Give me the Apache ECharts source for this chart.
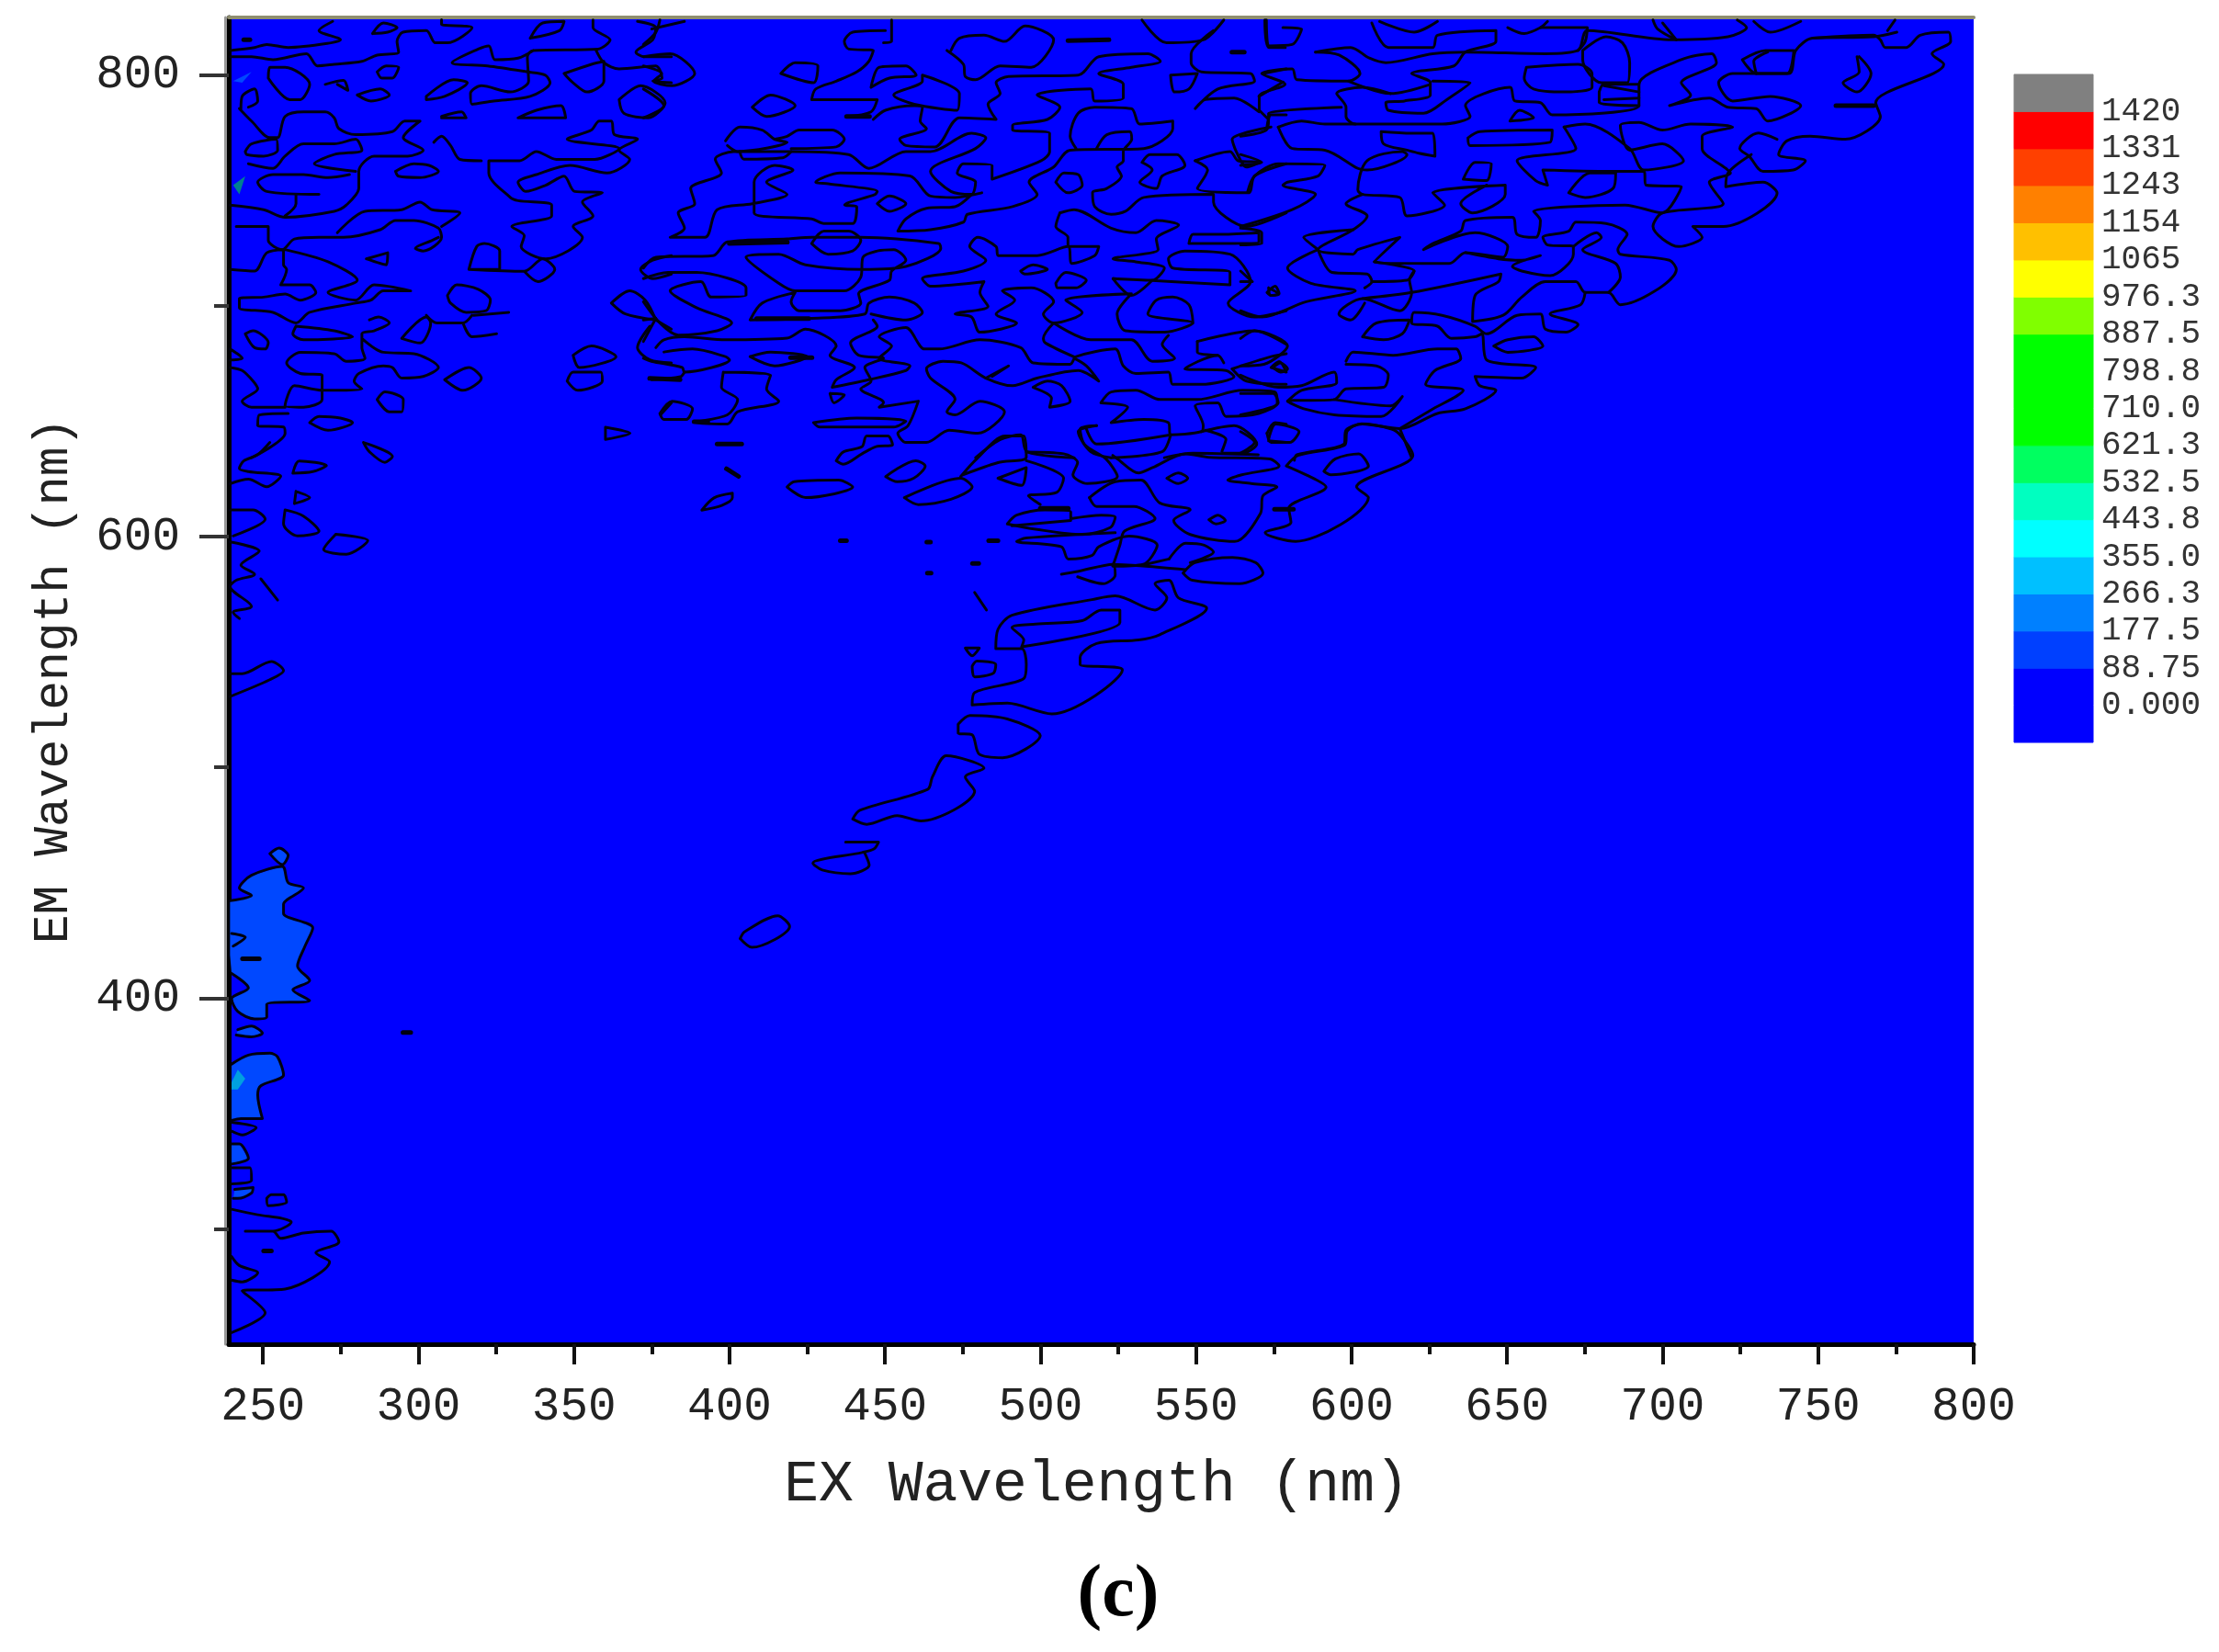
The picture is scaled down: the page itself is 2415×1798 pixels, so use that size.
<!DOCTYPE html>
<html>
<head>
<meta charset="utf-8">
<title>EEM contour</title>
<script src="https://cdn.jsdelivr.net/npm/echarts@6/dist/echarts.min.js"></script>
<style>
html,body{margin:0;padding:0;background:#fff}
#main{width:2415px;height:1798px}
</style>
</head>
<body>
<div id="main"></div>
<script>
// axis ticks (nm)
const exMajor=[250,300,350,400,450,500,550,600,650,700,750,800]
const exMinor=[275,325,375,425,475,525,575,625,675,725,775]
const emMajor=[400,600,800]
const emMinor=[300,500,700]

// colour scale
const levels=[0,88.75,177.5,266.3,355,443.8,532.5,621.3,710,798.8,887.5,976.3,1065,1154,1243,1331,1420]
const levelLabels=['0.000','88.75','177.5','266.3','355.0','443.8','532.5','621.3','710.0','798.8','887.5','976.3','1065','1154','1243','1331','1420']
const bandEdges=[-88.75,0,88.75,177.5,266.3,355,443.8,532.5,621.3,710,798.8,887.5,976.3,1065,1154,1243,1331,1420,1508.75]
const bandColors=['#0000ff','#0000ff','#0040ff','#0080ff','#00c0ff','#00ffff','#00ffc0','#00ff60','#00ff00','#00ff00','#00ff00','#80ff00','#ffff00','#ffc000','#ff8000','#ff4000','#ff0000','#808080']

// contour lines, flat lists of ex,em (nm)
const contoursUpperLeft=[
[239.4,810.7,247.3,812,251.2,813.3,258.1,812,271.9,814,274.9,815.3,268,819.3,272.4,823.3],
[239.4,808,246.3,808,253.2,806.7,264,809.3,267.5,804,272.9,804.7,281.8,806,286.7,808.7,293.6,810,293.1,814.6,295,818.6,302.5,819.3,305.4,814,309.3,814,317.2,820.6,307.4,822,307.4,824],
[285.2,818,288.7,822.6,293.1,820.6,290.1,818.6,285.2,818],
[335.9,816,339.9,822.6,346.8,823.3,345.3,819.3,335.9,816],
[356.1,823.9,356.1,820.6,361.6,815.3,357.6,811.3,336.9,810.7,335,808,335.4,797.4,329.5,792.7,320.2,795.4,316.7,792,317.2,787.4,324.1,788.8,335.9,790.8,342.3,796.7,340.8,800,335,801.4,322.2,804,310.8,805.4,319.2,811.3,322.6,812.7,324.6,806.7,332,807.4,336.9,810.7],
[357.1,810.7,359.6,805.4,364.5,802.7,376.3,804,378.3,798.7,375.3,797.4,381.3,796.7],
[346.8,800.7,355.6,804.7,359.6,806,359.6,797.4,354.2,792.7,349.7,796.7,346.8,800.7],
[370.4,823.3,376.3,820.6,375.3,815.3,369.9,810,372.4,808,381.3,808],
[364.5,789.4,371.4,795.4,379.3,788,373.9,781.5,366,783.5,364.5,789.4],
[251.7,798.7,252.2,803.4,257.1,803.4,265,796,262,789.4,258.6,789.4,251.7,798.7],
[270,796,275.9,797.7,277.3,793.4,273.9,796],
[280.3,791.4,287.7,794,290.6,791.4,284.7,788.8,280.3,791.4],
[286.7,801.4,289.6,804,293.6,803.4,291.6,798.7,288.2,798.7,286.7,801.4],
[302.5,790.8,311.3,798,315.7,796.7,308.4,790.8,302.5,789.4,302.5,790.8],
[307.4,782.1,313.8,784.1,315.3,781.5,307.4,781.5],
[332,781.5,337.9,784.8,345.8,786.8,347.3,781.5,332,781.5],
[242.9,785.5,243.3,790.8,247.3,794,248.3,788.8,245.3,786.1],
[242.4,785.5,246.3,780.1,252.2,772.9,254.7,772.9,257.1,782.1,263,784.1,270,784.1,272.9,781.5,274.4,776.8,279.8,774.2,291.6,775.5,295.6,780.1,300.5,780.1,295.1,772.9,301.5,767.5,296.5,764.9,285.7,764.9,280.8,758.3,280.8,751,276.8,743.7,272.9,741,257.1,738.4,250.2,741.7,239.4,743.7],
[244.3,766.9,246.3,770.2,254.2,772.2,254.7,767.5,250.2,764.9,244.8,765.6,244.3,766.9],
[245.3,761.6,253.2,759.6,257.1,764.9,263,770.2,272.9,770.2,279.8,772.2,281.8,767.5,272.9,765.6,266.5,761.6,279.8,758.3],
[277.8,756.9,270.9,755.6,263,756.9,253.2,756.9,248.3,753.6,251.2,749.6,268,748.3],
[260.6,748.3,260.6,744.3,257.1,739],
[292.6,758.3,298.5,761.6,303.4,760.9,306.4,758.3,300.5,755.6,293.6,756.2,292.6,758.3],
[304.9,770.9,307.4,773.5,310.3,769.5,313.3,763.5,320.2,762.9],
[322.6,762.9,322.6,757.6,329.5,747,332,745.6,342.8,743.7,342.8,739,330,734.4,334,730.4,333,725.7,340.9,720.4,352.7,729.7,349.7,734.4,356.1,739,352.7,745,359.1,749,350.2,749.6,346.8,756.2,340.9,752.3,334.5,749.6,332,753.6,337.9,756.9,348.7,760.9,360.6,757.6,367.9,763.5,364.5,767.5,370.4,772.2,363,774.2,362,780.1,358.1,780.1,355.6,776.2,347.8,772.2,364.5,768.2,356.6,763.5,344.3,763.5,337.9,766.9,332.5,762.9,322.6,762.9],
[241.4,734.4,251.7,734.4,251.7,728.4,256.2,724.4,260.1,729,268,729.7,275.9,729.7,287.7,733,292.6,737,298.5,737,306.4,733.7,307.4,729.7,301.5,723.8,299,725,304.4,728.4,306.4,729.7],
[273.9,731.7,282.8,741,294.6,741.7,300.5,745,304.4,741.7,313.3,740.3,307.4,734.4],
[283.2,720.4,290.1,723,289.6,717.8,283.2,720.4],
[316.2,715.8,318.7,725.7,321.2,727,326.1,723.8,326.1,715.8,316.2,715.8,334,715,339.9,720.4,343.8,715.8,338.4,710.5,334,715],
[239.4,715.8,247.3,715.1,251.2,723,256.6,724.4,256.6,717.8,257.6,715.8,255.7,709.1,265,709.1,267,705.8,262,702.5,257.1,705.1,250.2,703.8,242.4,703.2,242.4,699.2,253.2,697.2,260.6,692.6,265,697.2,279.8,701.2,284.7,702.5,288.7,706.5,297.5,706.5,285.7,709.1,279.8,702.5,270.9,705.8,280.3,711.1,270.9,719.1,257.1,724.4],
[309.3,704.5,312.3,709.1,319.2,707.2,323.1,702.5,321.7,697.9,315.3,697.2,310.3,701.2,309.3,704.5],
[317.7,695.9,329,697.2],
[302.5,695.9,305.9,692.6,314.3,692.6,317.2,695.9],
[294.6,685.9,302.5,695.2,303.9,692.6,300.5,683.9,294.6,685.9],
[314.3,692.6,317.2,686.6,325.1,687.9],
[260.6,691.2,259.6,687.9,263,685.3,278.8,686.6,272.9,689.2,260.6,691.2],
[284.2,693.9,287.2,695.2,290.6,692.6,285.7,689.2,281.8,687.9,281.8,681.9,282.8,677.3,276.8,676,272.9,679.3,262,679.9,257.6,675.3,262,670.7,269,670,269,659.4,263,656.1,257.1,656.7,260.1,665.4,269,663.4,281.8,664,279.3,667.3,280.8,670.7,288.7,674,291.6,673.3,294.6,668.7,301.5,669.4,306.4,673.3,298.5,679.3,288.7,679.9,281.8,685.9],
[244.3,687.9,246.8,689.2,251.7,684,250.7,681.3,247.3,681.9,244.3,687.9],
[239.4,673.3,243.3,672,246.8,667.4,248.3,664,243.3,658.7,246.3,656.1,257.1,656.1],
[239.4,681.3,243.3,677.3,239.4,676.6],
[308.4,668,316.2,673.3,320.2,668.7,314.3,663.4,308.4,668],
[286.7,659.4,289.2,662.7,295.1,659.4,294.6,654.1,290.6,654.1,286.7,659.4],
[258.1,653.4,248.8,652.7,248.3,648.1,256.6,647.5,257.1,644.8,246.3,634.2],
[265,649.4,268,652.1,274.9,651.4,278.8,649.4,270.9,646.1,265,649.4],
[360.1,647.4,368,644.8,360.1,642.1,360.1,647.4],
[349.7,678.6,355.6,682.6,363.5,678,351.7,673.3,349.7,678.6],
[347.8,667.4,349.7,671.3,358.6,671.3,359.1,667.4,351.2,663.4,347.8,667.4],
[362,701.2,367.9,706.5,372.9,702.5,376.3,693.9,366.5,696.5,362,701.2],
[376.3,693.9,381.3,689.9],
[374.4,691.2,370.4,681.9,374.4,676.6,381.3,675.3],
[381.3,721.8,375.3,719.8,371.4,715.8,375.3,711.8,381.3,713.8],
[377.8,652.8,381.3,658],
[282.3,640.8,291.6,634.8,289.2,632.2,284.2,636.8,282.3,640.8],
[252.2,640.8,248.3,635.5,243.8,632.8,242.4,629.5,245.3,628.2,255.7,626.2,251.2,621.6,245.3,624.9,239.4,622.9],
[259.6,627.5,261.6,632.8,270.4,630.8,266,628.2,259.6,627.5],
[260.6,619.6,265,616.9,260.1,614.3,260.6,619.6],
[239.4,611.6,246.8,611.6,250.7,607.6,240.4,600.3],
[257.1,611.6,263,608.9,268,602.3,261.1,600.3,256.6,605.6,257.1,611.6],
[273.4,601,283.7,598.3,276.8,592.4,269.5,594.4,273.4,601],
[239.4,597.7,248.8,593.7,242.9,587.7,247.3,583.7,241.4,581.1,239.4,578.4,246.3,569.8,240.4,567.2,242.4,564.5],
[249.3,581.7,254.7,572.5],
[239.4,540.6,243.3,540.6,252.7,545.9,256.6,541.9,252.2,538,239.4,530.7]
]
const contoursLowerLeft=[
[239.4,442.2,246.3,444.5,242.4,447.7,246.3,453.2,256.2,457.1,258.1,450,263,447.7,256.6,440.6,256.6,436.7,266,430.4,263.5,422.5,261.1,413.9,265,407.6,259.6,403.6,265,398.9,251.2,397.3,251.2,391.8,247.3,391,241.9,394.2,239.9,399.7,245.3,404.4,239.9,410.7],
[239.9,371.4,245.3,375.3,252.2,376.1,254.7,374.5,256.6,366.7,249.3,362,248.3,358,249.8,347.8,242.9,347.8,239.9,347],
[252.2,462.6,255.2,465,258.1,461.8,256.2,457.9,252.2,462.6],
[239.9,336.8,242.4,336.8,245.3,330.5,239.9,328.1],
[240.9,317.1,246.8,317.9,246.3,315.5,241.9,313.2,240.4,313.2],
[241.9,386.3,246.3,387.9,249.8,384.8,246.3,383.2,241.4,384],
[239.9,428,244.3,426.4,240.4,422.5],
[239.9,346.2,247.8,343.9,243.4,340.7,239.9,342.3],
[239.9,326.5,245.8,326.5,246.3,321,239.9,319.5],
[251.2,313.2,252.7,314.8,256.6,314.8,257.6,311.6,251.7,310,251.2,313.2],
[239.9,308.5,248.3,306.1,256.2,304.5,259.1,303,253.2,299,244.3,299,253.2,299,255.7,295.9,263,298.2,271.9,299,274.4,294.3,267,289.6,271.4,285.7,257.1,273.9,243.3,273.1,250.7,263.6,239.9,255],
[239.9,288,242.4,284.1,248.3,281,243.3,277,239.9,277.8]
]
const contoursCentre=[
[377.6,823.9,376.3,818.6,372.3,813.3],
[375,820,385.5,823.3],
[372.3,808,380.9,809.3,388.8,800.7,381.5,795.4,375.6,797.4,378.2,800.7,372.3,804],
[372.3,794,378.9,786.8,372.3,781.5],
[452.1,823.9,452.1,814.6,449.5,814],
[450.1,819.3,439.6,818.6,436.9,814.6,438.3,811.3,446.2,810.7,444.8,806,440.9,801.4,434.3,797.4,427.7,794,426.4,789.4,429,789.4,447.5,789.4,445.5,784.1,437.6,782.1],
[416.5,800.7,421.1,805.4,428.4,804,427,796.7,416.5,800.7],
[407.3,786.1,413.2,791.4,421.1,786.8,411.9,782.1,407.3,786.1],
[445.5,794.7,448.1,803.4,456.7,804,460,800,451.4,798.7,445.5,794.7],
[462,800,473.9,792,473.2,784.8,459.4,787.4,452.8,791.4,462,797.4,462,800],
[446.2,780.8,450.1,784.8,459.4,786.8,462,786.1,461.3,780.1,463.3,776.8,454.7,772.2,456.7,769.5,466,768.9,473.9,781.5,485.7,780.8,483.1,787.4,487,792,485.7,796.7,489.7,799.4,512.1,800,518.7,808,534.5,809.3,538.5,806,529.2,803.4,518.7,800.7,526.6,796,526.6,790.1,517.4,788.8,516.1,794,498.9,791.4,506.2,786.1,502.2,780.8,491,778.2,491,776.2,502.9,774.8,502.9,766.9,500.2,762.9,484.4,754.9,484.4,760.9,475.2,761.6,473.2,757.6,479.1,753.6,477.8,748.3,471.2,749.6,464.6,758.3,479.1,768.2,482.4,772.8,477.8,774.8,464.6,766.9,456.7,766.9,444.8,759.6,438.3,765.6,419.8,766.9,401.3,766.9,395.4,763.6,397.4,757.6,387.5,750.9,388.8,744.3,383.5,740.3,385.5,733.7,380.9,729.7,392.1,729.7,396,741.7,407.3,744.3,418.5,748.3,411.9,753.6,420.4,758.9,414.5,760.9,407.9,753.6,407.9,740.3,426.4,737.7,430.3,735.7,439.6,735.7,440.9,743,437,743.7,446.8,748.3,447.5,749.6,431.7,752.9,427.7,753.6,435.6,757.6,458,756.3,464.6,747.6,472.5,747,481.1,749],
[398.7,771.5,403.3,777.5,410.5,776.2,414.5,772.2,418.5,770.9,402.6,766.9,399.3,769.5],
[414.5,772.2,418.5,773.5,422.4,776.2,433,776.2,436.9,772.2,434.3,768.9,419.8,768.2],
[403.3,766.9,404.6,763.6,417.1,764.2,419.8,766.9],
[471.2,810.7,473.9,816,481.8,817.3,488.4,814.6,495,821.3,504.2,815.3,497,803.4,487,804,479.1,798,475.8,799.4,475.2,804.7,469.9,810.7],
[532.6,823.9,540.5,814,552.3,815.3,558.9,823.9],
[555.6,819.3,548.4,809.3,548.4,805.4,551.7,801.4,567.5,800.7,568.8,797.4,557,794,549.7,785.5,553,789.4,562.2,790.1,570.2,784.1],
[570.2,790.8,578,797],
[541.8,800,550.4,800.7,547.7,794,543.1,792.7,541.8,800],
[572.1,823.9,573.4,812,578.7,812],
[571.5,800.7,579,802.7],
[572.8,777.5,574.1,782.8,579,782.8],
[511.4,768.2,509.5,773.5,512.1,783.5,517.4,786.1,529.2,785.5,531.9,778.8,542.5,780.1,542.5,776.8,533.2,768.2,509.5,767.5,504.2,760.2,496.3,753.6,498.9,748.3,491,743,476.5,739.7,475.2,736.3,464.6,733,454.1,732.4,456.7,737.7,463.3,742.3,472.5,743,477.8,748.3],
[518,768.2,521.3,774.2,528.6,775.5,529.3,772.2,526.6,766.9,526.6,762.9,524.6,760.2,526,756.3,521.3,750.9,516.7,749,517.4,743,522.7,739.7,527.3,741,533.2,747,555.6,748.3,555.6,745,566.2,734.4,579,740.3],
[532.6,762.2,535.2,765.6,543.8,765.6,546.4,760.9,539.1,756.3,537.2,750.9,531.9,753.6,535.9,758.9,532.6,762.2],
[504.9,753.6,507.5,757.6,512.1,756.9,513.4,752.3,508.8,749,504.9,753.6],
[447.5,744.3,451.4,747.6,456.7,744.3,451.4,741,447.5,744.3],
[549.7,762.9,560.9,766.9,563.5,762.9,570.2,762.2,566.2,760.2,562.9,766.9,561.6,772.2,574.1,777.5],
[549.7,762.9,553.7,758.9,550.4,750.9,566.8,749,568.8,756.3,579,761.6],
[506.2,740.3,510.8,741.7,522.7,733.7,530.6,731.7,537.2,737,544.4,735,537.2,729,537.8,724.4,523.3,720.4,530.6,719.1,539.8,716.4,535.9,711.1,523.3,711.8,534.5,711.1,560.9,709.1,560.9,714.5,542.5,716.4,541.1,720.4,546.4,723.8,560.9,722.4,567.5,710.5,560.3,701.2,568.8,695.2,579,697.9],
[506.2,740.3,504.9,734.4,508.8,729.7,508.8,725.7,518.7,725.7,517.4,721.8,510.1,718.4,508.8,725.7,498.9,721.8,486.4,721.8,485.7,725.7,479.8,729.7,477.2,725.7,482.4,719.8,475.2,715.1,462,711.8,464.6,708.5,481.8,710.5,480.5,705.8,483.1,699.8,472.5,696.5,477.8,695.2,480.5,688.6,492.3,692.6,485.7,696.5,491.7,702.5,487.7,706.5,497,707.8,504.2,701.8,500.9,696.5,504.2,692.6,513.4,697.2,508.1,702.5,529.2,705.2,524.6,696.5,527.3,689.2,539.8,688.6,549,692.6,534.5,696.5,537.2,702.5,542.5,703.8,547.7,700.5,549,692.6],
[547.7,727,549,731,558.3,731,570.2,731.7,570.2,727.7,550.4,727,547.7,727],
[372.3,711.8,380.2,714.5,389.4,714.5,405.3,707.8,405.3,704.5,394.1,703.8,390.8,710.5,380.9,706.5,389.4,699.2,400.7,692.6,396,689.2,383.5,687.3,377.6,692.6,372.3,701.8],
[372.3,716.4,376.3,721.1,394.7,721.8,399.3,727.7,418.5,729,426.4,729.7,442.2,729.7,467.3,727,467.9,725,456.7,717.1,442.9,715.8,424.4,717.8,415.8,722.4,405.3,721.1,415.8,709.8,421.1,706.5,436.9,706.5,442.2,712.5,442.9,721.1,447.5,723.8,452.8,724.4,456.7,719.8,452.1,715.1,451.4,711.1,441.5,705.2,442.2,701.2,435.6,697.9,422.4,697.9,419.8,701.8,421.1,705.8,410.5,701.2,406.6,693.9,425.7,694.6,443.5,696.5,444.8,701.2,451.4,703.8,459.4,701.2,462,697.2,456.7,693.9,445.5,696.5],
[426.4,727,430.3,732.4,438.3,732.4,442.2,728.4,439.6,723.8,431.7,722.4,426.4,727],
[376.3,681.9,378.9,685.3,385.5,686.6,398.7,685.3,418.5,686,424.4,689.9,434.3,682.6,432.3,678.6,440.2,673.3,434.3,668,433,664.7,444.8,668,456.7,672,458,674,448.1,677.3,452.1,682.6,448.1,686.6,456.7,690.6,462.7,681.3,467.3,681.3,480.5,685.3,493.6,681.9,497.6,675.3,509.5,674.7,511.4,678,524,681.3,526.6,674,530.6,670.7,541.1,671.3,542.5,666,551.7,666,562.2,669.3,559.6,672,546.4,672.7,556.9,678.6,558.9,675.3],
[446.2,693.9,447.5,691.2,438.9,683.9,441.5,678.6,449.5,677.3,443.5,673.3,445.5,667.4,442.2,664,449.5,658.1,448.1,656.1,460.7,658.7,457.4,648.1,454.1,644.8,456.7,640.8,463.3,640.8,470.6,646.1,479.8,644.8,488.4,654.1,480.5,658.7,472.5,652.8,469.9,654.1,472.5,659.4,464.6,668.7,463.3,672.7,468.6,676,474.5,675.3,482.4,668.7,491,665.4,498.9,668.7,512.1,672,518.7,667.4,514.7,674,510.8,677.3],
[378.9,680,388.1,681.3,398.7,678,400,676.6,385.5,671.3,384.8,673.3,374.9,676,372.3,677.3],
[385.5,671.3,384.2,669.3,374.9,668],
[406.6,678,413.2,680,425,678,414.5,674,406.6,678],
[398,671.3,413.2,670,411.9,664,415.8,658.7,402.6,654.1,399.3,648.8,388.8,649.4,399.3,652.8,402.6,659.4,397.4,664.7,398,671.3],
[377.6,653.4,381.5,658.7,388.1,655.4,386.1,650.8,378.9,650.8,377.6,653.4],
[427,649.4,440.9,651.4,456.7,650.1,452.8,647.5,429,647.5,427,649.4],
[432.3,662,436.9,661.4,433.6,658,432.3,662],
[519.4,658,522.7,662.7,530.6,663.4,538.5,659.4,550.4,659.4,564.9,663.4,575.4,662.7,576.1,658,570.2,653.4,559.6,652.1,557,658,549.7,656.7,552.3,648.1,551.7,645.5,541.8,644.1,541.1,649.4,533.2,650.8,522.7,649.4,528,656.1,519.4,658],
[518,648.1,512.1,645.5,516.1,636.8,522.7,634.2],
[514.7,646.8,518,640.1,541.8,644.1],
[551.7,645.5,562.2,648.1,569.5,640.1,564.9,636.2,558.3,636.8,559.6,642.1,553,646.1],
[541.8,644.1,539.1,636.8,522.7,634.2],
[539.8,634.2,549,636.2,570,635.5],
[497.6,664.7,502.2,667.4,506.8,665.4,509.5,658.7,502.9,656.1,503.5,660,497.6,664.7],
[482.4,668.7,489.7,674,484.4,669.4],
[550.4,684.6,568.8,689.2,579,683.3],
[550.4,684.6,550.4,680,556.9,678.6],
[561.6,672.7,574.1,678,579,679.3],
[561.6,672.7,566.2,667.4,579,666],
[574.1,673.3,576.7,675.9,579,671.3,574.1,673.3],
[572.8,644.8,575.4,649.4,579,648.7],
[572.8,644.8,574.1,640.8,579,640.8],
[479.1,634.2,487,642.1,493.6,644.1,495.6,636.8,510.8,634.2],
[372.3,693.9,376.3,694.6,372.3,684.6],
[572.8,705.8,575.4,708.5,576.7,705.2,574.1,704.5,572.8,705.8],
[493.6,715.1,497.6,717.8,502.2,715.8,494.9,713.8,493.6,715.1],
[504.9,709.8,508.1,714.5,514.7,711.1,511.4,707.8,505.5,707.8,504.9,709.8],
[504.2,692.6,500.9,685.9,501.6,683.9,510.8,677.9],
[504.2,692.6,516.1,685.3,529.2,685.3,535.9,676,543.1,677.3,539.1,683.3,541.1,687.2],
[523.3,711.8,529.2,704.5,535.9,711.1]
]
const contoursRight=[
[572.6,823.9,573.3,812.7,580.9,813.3,583.9,820,577.9,820.6],
[606.5,822.6,611.8,812,626.1,812,627.6,817.3,646.4,819.3,646.4,814.6,636.6,810,632.9,804,619.3,800.7,625.3,796.7,625.3,791.4,617,788.8,611,788.1,611.8,784.8,623.1,783.5,630.6,789.4,638.1,796.7,626.1,797.4],
[588.4,810,599.7,812,605.7,807.4,611,805.4,626.1,809.3,636.6,810,662.3,809.3,672.8,810.7,675.8,819.3,703,815.3,721,816.6,727,820.6,724,823.9],
[588.4,810,596,808.7,602.7,800.7,599,797.4,582.4,798,580.9,802.7,571.1,800.7,578.6,796,570.3,790.8,570.3,784.8],
[599,797.4,612.5,792,625.3,796],
[612.5,792,603.5,794.7,595.2,792,598.2,786.1,598.2,782.1,601.2,778.8,629.1,778.8,638.1,782.1,636.6,786.8,650.9,794.7,652.5,788.8,660.7,788.1,664.5,782.8,692.4,786.8,692.4,796,706,806.7,715.8,809.3,717.3,805.4,706,796.7,709,791.4,702.2,786.8,715,790.1,721,786.1,730.1,785.5,733.8,780.1,744.4,786.8,734.6,790.8,722.5,788.8,718,796.7,722.5,800.7,740.6,800.7,742.8,810.7,748.2,816,767.8,816.6,775.3,818.6],
[748.2,816,767.8,817.3,770,815.3,771.6,812,778.3,812,782.8,817.3,791.9,818.6,792.6,814.6,786.6,809.3,790.4,804.7,768.5,788.1,770,782.1,758.7,772.2,747.4,773.5,739.9,771.5,737.3,765.6,745.9,762.9,742,758.9,732.3,758.3,727.8,764.9,724.8,768.2,730.8,774.9,736.8,772.2],
[774.7,823.9,772.3,819.3],
[650.2,820.6,655.5,818,660.7,820.6,663,823.3],
[660.7,820.6,675.8,820.6,675.1,814.6,672.8,810.7],
[696.9,823.9,698.4,820,704.4,815.3,700,822.6],
[729.3,823.3,734.6,818.6,744.4,823.3],
[609,823.3,620.1,818.6,627.6,823.3],
[674.3,810.7,681.8,816.6,687.1,814,689.4,805.4,688.6,796.7,680.3,796.7,674.3,806.7,674.3,810.7],
[656.2,803.4,672.8,804.7,677.3,800.7,677.3,794.7,668.3,792.7,658.5,794,655.5,798.7,656.2,803.4],
[679.6,792.7,681.1,796,692.4,796],
[679.6,792.7,679.6,788.1,692.4,786.8],
[681.1,789.4,692.4,790.1],
[681.1,795.4,692.4,792.7],
[725.6,806.7,733.1,810.7,742.2,810.7,740,800.7,730.1,800.7,725.6,806.7],
[730.1,800.7,729.3,806,733.8,810],
[763.2,808,767,800.7,762.5,792.7,758,796.7,763.2,801.4,762.5,808],
[570.3,784.8,573.3,780.8,573.3,783.5,596.7,786.1],
[564.3,773.5,572.6,776.2,573.3,780.8],
[576.4,777.5,583.9,780.1,591.4,778.8,601.2,778.8],
[576.4,777.5,580.9,768.2,591.4,767.5,602,759.6,605,758.9,617.8,765.6,616.3,766.9,605,762.9,602,750.3,603.5,748.3,615.5,747,617.8,739,629.9,743.7,626.1,749,649.4,752.3,649.4,748.3,638.9,740.3,635.1,744.3,643.4,752.3],
[609.5,775.5,619.3,774.8,626.1,774.8,626.8,764.9,621.6,766.2,617.8,767.5,610.3,770.2,609.5,775.5],
[637.4,772.8,641.2,775.5,664.5,776.2,663.8,770.9,638.1,769.5,637.4,772.8],
[650.9,780.1,654,784.8,658.5,781.5,650.9,780.1],
[668.3,777.5,675.1,778.8,689.4,768.2,693.9,758.9,706.7,762.9,699.9,770.2,689.4,767.5,686.4,778.2,692.4,779.5,699.9,776.2,709,778.8,722.5,777.5,712.7,773.5,712.7,768.2,720.3,759.6,721.8,757.6,715,753.6,719.5,744.3,699.9,740.3,696.9,734.4,705.2,725.7,712.7,729.7,709.7,734.4,719.5,734.4,736.8,748.9,732.3,753.6,720.3,751.6,721,757.6,728.5,765.6],
[668.3,777.5,672.1,768.2,653.2,762.9,659.2,754.3,663,752.3,661.5,758.9,683.3,758.3,693.9,758.3,694.7,752.3,706,751.6,699.9,740.3,687.9,743.7,658.5,741,660.7,737,659.2,729.7,653.2,731,651.7,738.4,636.6,737,635.1,732.4,626.1,727,623.1,724.4,639.7,731.7,650.2,725.7,648.7,721.1,636.6,723.1,631.4,718.4,607.3,719.1,615.5,729.7,602,724.4,600.5,722.4,589.2,724.4,600.5,733,605,739,598.2,744.3,603.5,748.3],
[669.8,749,676.6,757.6,684.9,757.6,684.1,751,675.1,747,669.8,749],
[635.9,754.9,639.7,762.2,644.9,761.6,643.4,754.3,635.9,754.9],
[566.6,749.6,568.8,756.3,576.4,761.6,591.4,760.9,589.2,756.3,579.4,753.6,577.9,752.3,588.4,748.3,580.9,741.7,564.3,734.4],
[564.3,733.7,571.1,731.7,571.1,727,564.3,726.4],
[600.5,733,584.6,729.7,589.2,724.4],
[589.2,724.4,579.4,716.4,586.9,709.8,601.2,706.5,585.4,701.8,571.1,695.2,564.3,697.9],
[589.2,724.4,593.7,714.5,605,713.8,606.5,710.5,604.2,707.8],
[606.5,710.5,617.8,711.1,620.1,715.1,607.3,719.1],
[620.1,715.1,618.6,711.1,619.3,705.8,615.5,697.9,603.5,703.2,595.9,696.5,599.7,693.9,604.2,701.2],
[603.5,703.2,619.3,705.8,648,713.8,647.2,710.5,639.7,704.5,638.9,693.2,648.7,695.9,654.7,703.8,662.3,710.5,672.1,710.5,675.1,705.8,682.6,705.8,686.4,700.5,704.4,715.8,702.2,719.8,686.4,722.4,685.6,724.4,688.6,731,681.8,735.7,672.1,736.3,669.8,732.4,661.5,729.7,663,726.4,671.3,725.7,671.3,722.4,663.8,713.1,654.7,715.1,651.7,717.1,660.7,721.8,654.7,719.8,647.2,720.4,636.6,723.1],
[671.3,725.7,678.8,731.7,680.3,729.7,674.3,724.4,684.9,718.4,686.4,712.5,682.6,705.8],
[675.1,705.8,673.6,700.5,663.8,696.5,672.8,691.9,669,688.6,662.3,689.9,660.7,696.5,653.2,695.9,643.4,687.9,639.7,691.2,629.1,695.9,620.1,697.2,619.3,692.6,627.6,691.2,632.1,685.9,639.7,686.6,641.9,687.9,643.4,676.6,659.2,673.3,654.7,668.7,639.7,669.4,641.2,665.4,646.4,663.4,636.6,655.4,627.6,653.4,615.5,646.8,603.5,648.8,598.2,646.1,597.5,640.1,582.4,635.5,581.6,633.1],
[603.5,686.6,608,692.6,618.6,693.9,616.3,687.9,610.3,685.3,603.5,686.6],
[645.7,682.6,650.2,685.3,658.5,686.6,661.5,682.6,650.2,679.9,645.7,682.6],
[598.2,676,600.5,680,613.3,678.6,627.6,681.3,633.6,681.3,635.1,677.3,626.8,672,623.8,666,635.9,663.4,625.3,654.7,615.5,646.8],
[598.2,674.7,608,674,611.8,670,610.3,664.7,598.2,664,594.4,659.4,579.4,658.7,584.6,655.4,594.4,652.8,609.5,652.1,616.3,660.7,612.5,656.7,594.4,659.4],
[564.3,685.9,568.8,689.2,579.4,682.6,571.8,674.7,564.3,674],
[574.8,673.3,577.1,675.3,579.4,672.7,577.1,671.3,574.8,673.3],
[564.3,670,576.4,664.7,583.9,665.4,594.4,671.3,595.2,666.7,583.9,663.4,579.4,658.7],
[564.3,662,574.8,662,576.4,658,564.3,652.8],
[573.3,642.1,575.6,648.8,583.1,645.5,580.1,640.8,573.3,641.5],
[564.3,645.5,568.8,640.8,564.3,636.2],
[615.5,646.8,619.3,634.2],
[564.3,765.6,571.1,762.2,564.3,760.9],
[564.3,715.1,568.1,710.5,564.3,710.5],
[573.3,707.8,576.4,705.2,574,704.5,573.3,707.8]
]
const contoursLower=[
[434.3,632.9,436.6,636.7,442.6,639,444.1,643.6,450.9,643.6,452.4,639.8,447.1,639,442.6,635.9,436.6,631.4,434.3,632.9],
[450.2,626,459.9,632.9,462.9,630.6,459.2,625.3,453.9,623.8,450.2,626],
[418.5,621.5,420.8,623.8,435.1,624.5,439.6,621.5,424.5,616.9,418.5,621.5],
[456.2,616.9,474.3,625.3,478,621.5,471.2,616.2,460.7,613.9,456.2,616.9],
[474.3,626,479.5,633.7,488.6,643.6,494.6,643.6,495.4,634.4,486.3,632.1,475,626.8],
[495.4,636.7,507.4,635.9,511.9,632.1,510.4,626.8,515,623,524.7,626,521,633.7,514.2,639.8,512.7,646.6,518,648.1],
[495.4,632.9,507.4,625.3,505.2,619.2,496.1,617.7,499.9,613.9],
[486.3,625.3,495.4,629.9,493.9,622.2,486.3,625.3],
[489.3,605.5,492.3,609.3,501.4,611.6,509.7,610.8,509.7,607.8,519.5,609.3,524,608.5,522.5,604,513.4,600.9,498.4,603.2,489.3,605.5],
[490.8,604.7,509.7,607],
[515.7,616.9,524,623.8,532.3,624.5,538.3,614.6,548.1,611.6,542.8,607,548.1,600.9,562.4,597.9,570.7,610.1,571.5,617.7,576,621.5,567.7,623,560.2,624.5,564.7,626.8,576.7,630.6,573.7,633.7,554.1,634.4,546.6,635.9,536,629.9,531.5,627.6,524.7,633.7,523.2,635.2],
[515.7,616.9,518,613.1,530,613.1,536.8,607.8,527,602.4,525.5,596.3,524,590.3,523.2,587.2,533,588,537.5,596.3,528.5,600.2,518.7,595.6,516.5,591.8,508.9,590.3,506.7,595.6,492.3,597.9,495.4,599.4,524,601.7],
[540.6,625.3,544.3,627.6,547.3,625.3,544.3,623,540.6,625.3],
[554.1,607.3,557.1,609.3,559.4,607,556.4,605.5,554.1,607.3],
[579,630.6,582.8,635.2,597.9,639.8,598.6,645.8,603.1,648.9,612.9,646.6,615.9,643.6,619.7,635.2,601.6,621.5,605.4,616.9,582,597.9,572.2,601.7,580.5,606.2,579.8,612.3,591.8,621.5,588.8,624.5,579,630.6],
[591.1,628.3,594.8,633.7,602.3,635.9,605.4,630.6,593.3,626.8,591.1,628.3],
[506.7,583.7,511.9,584.9,523.2,588,524,583.4,520.2,579.6,511.9,582.6],
[523.2,588,533.8,587.2,546.6,585.7],
[545.8,584.2,549.6,588.7,561.7,591,569.2,588.7,571.5,584.2,563.9,579.6,548.8,581.1,545.8,584.2],
[541.3,590.3,546.6,597.1,552.6,596.3,555.6,593.3,548.1,588.7],
[533.8,588,541.3,590.3],
[485.6,551.4,486.3,559.8,490.8,565.9,516.5,572.7,524,574.3,536.8,568.2,540.6,573.5,536.8,579.6,541.3,581.1,544.3,573.5,553.4,569,538.3,557.5,531.5,555.2,518,553.7,512.7,547.6,512.7,544.6,526.3,542.3,503.6,523.2,489.3,527.8,478,527,478.8,532.4,494.6,538.5,495.4,544.6,493.9,551.4,485.6,551.4],
[493.9,552.2,525.5,562.8,525.5,568.2,519.5,568.2,513.4,563.6,498.4,562.1,490.8,560.6,494.6,555.2,493.9,552.2],
[475.8,551.7,480.3,551.7,478,548.4,475.8,551.7],
[478,543.8,479.5,546.1,485.6,544.6,484.8,540.8,478.8,539.2,478,543.8],
[478.8,575.8,482.6,568.2],
[391.1,611.5,395,616.8,400.9,618.8,400.9,616.8,397.5,613.5,391.1,611.5],
[473.5,518.7,477.3,522.5,489.3,521,499.9,513.8,487.8,504.2,480.3,505.7,478,514.1,473.5,514.9,473.5,518.7],
[439.6,477.6,441.9,481.4,463.7,490.5,465.2,495.8,469.7,505,481.8,499.6,475.8,495.8,478.8,489.7,461.5,476.8,453.9,479.1,444.1,475.3,439.6,477.6],
[437.3,467.6,447.9,467.6,446.4,464.6,442.6,463.1,426.8,458.5,429.8,455.5,438.8,453.9,444.9,457.7,443.4,463.1],
[403.4,425.8,404.9,428.8,415.5,435.7,419.3,431.1,407.2,422,403.4,425.8]
]
// short heavy dashes and specks
const dashes=[
[243.8,815.3,245.8,815.3],[508.8,814.9,522,815.3],[561.5,810,565.5,810],[755.7,786.8,767.8,786.8],
[396,640.1,403.9,640.1],[499.9,612.3,508.9,612.3],[575.2,611.9,581.3,611.9],[399,629.4,402.9,626.1],
[435.6,598.2,437.6,598.2],[463.4,597.6,464.6,597.6],[483.3,598.2,486.3,598.2],[478.1,588.4,480.1,588.4],[463.6,584.2,464.8,584.2],
[243.4,417,248.8,417],[295,385.1,297.5,385.1],[250.2,290.4,252.7,290.4],[437.6,782.1,445,782.1],
[399.9,727,418.6,727.6],[408.7,694.5,425.5,694.5],[419.6,677.6,426.5,677.6],[374.3,668.6,384.1,668],[388.6,649.8,393,649.8]
]
// small areas above the base level
const patchesLevel1=[
[239.4,442.2,246.3,444.5,242.4,447.7,246.3,453.2,256.2,457.1,258.1,450,263,447.7,256.6,440.6,256.6,436.7,266,430.4,263.5,422.5,261.1,413.9,265,407.6,259.6,403.6,265,398.9,251.2,397.3,251.2,391.8,247.3,391,241.9,394.2,239.9,399.7,245.3,404.4,239.9,410.7,239.4,418.6],
[239.9,371.4,245.3,375.3,252.2,376.1,254.7,374.5,256.6,366.7,249.3,362,248.3,358,249.8,347.8,242.9,347.8,239.9,347],
[252.2,462.6,255.2,465,258.1,461.8,256.2,457.9],
[239.9,336.8,242.4,336.8,245.3,330.5,239.9,328.1],
[240.9,317.1,246.8,317.9,246.3,315.5,241.9,313.2,240.4,313.2],
[241.9,386.3,246.3,387.9,249.8,384.8,246.3,383.2,241.4,384],
[240.4,797.4,246.3,801.4,243.3,796.7]
]
const patchesLevel3=[[239.9,363.5,241.9,369,244.3,365.1,241.9,360.4,239.9,360.4]]
const patchesLevel4=[[240.4,752.3,244.3,756.2,242.4,748.3]]

const myChart=echarts.init(document.querySelector('#main'))

function toPairs(flat){
  const out=[]
  for(let i=0;i<flat.length;i+=2) out.push([flat[i],flat[i+1]])
  return out
}

function lineSeries(flat,width,smooth){
  return {
    type:'line',
    xAxisIndex:0,
    yAxisIndex:0,
    data:toPairs(flat),
    showSymbol:false,
    symbol:'none',
    silent:true,
    smooth:smooth,
    z:5,
    lineStyle:{color:'#000010',width:width,cap:'round',join:'round'}
  }
}

function patchSeries(list,color){
  return {
    type:'custom',
    xAxisIndex:0,
    yAxisIndex:0,
    data:list.map((item,i)=>[i]),
    silent:true,
    z:3,
    renderItem:function(params,api){
      const pts=toPairs(list[params.dataIndex]).map(p=>api.coord(p))
      return {type:'polygon',shape:{points:pts},style:{fill:color}}
    }
  }
}

const allContours=[...contoursUpperLeft,...contoursLowerLeft,...contoursCentre,...contoursRight,...contoursLower]

const option={
  animation:false,
  backgroundColor:'#fff',
  title:{
    text:'(c)',
    left:1212,
    top:1692,
    textAlign:'center',
    textStyle:{fontFamily:'Liberation Serif',fontWeight:'bold',fontSize:80,color:'#000'}
  },
  grid:[
    {left:249,top:19,width:1899,height:1444,show:true,backgroundColor:'#0000ff',borderWidth:0},
    {left:2192,top:81,width:86,height:727}
  ],
  xAxis:[
    {
      type:'value',gridIndex:0,min:239,max:800,position:'bottom',
      name:'EX Wavelength (nm)',nameLocation:'middle',nameGap:122,
      nameTextStyle:{fontFamily:'Liberation Mono',fontSize:63,color:'#222',padding:[0,10,0,0]},
      splitLine:{show:false},
      axisLine:{show:true,onZero:false,lineStyle:{color:'#000',width:5}},
      axisTick:{show:true,length:22,customValues:exMajor,lineStyle:{color:'#111',width:4}},
      axisLabel:{show:true,customValues:exMajor,margin:43,fontFamily:'Liberation Mono',fontSize:51,color:'#222'}
    },
    {
      type:'value',gridIndex:0,min:239,max:800,position:'bottom',
      splitLine:{show:false},
      axisLine:{show:false},
      axisTick:{show:true,length:11,customValues:exMinor,lineStyle:{color:'#111',width:4}},
      axisLabel:{show:false}
    },
    {
      type:'value',gridIndex:0,min:239,max:800,position:'top',
      splitLine:{show:false},
      axisLine:{show:true,onZero:false,lineStyle:{color:'#8f8e70',width:4}},
      axisTick:{show:false},
      axisLabel:{show:false}
    },
    {type:'value',gridIndex:1,min:0,max:1,show:false}
  ],
  yAxis:[
    {
      type:'value',gridIndex:0,min:250,max:825,position:'left',
      name:'EM Wavelength (nm)',nameLocation:'middle',nameGap:164,
      nameTextStyle:{fontFamily:'Liberation Mono',fontSize:53,color:'#222'},
      splitLine:{show:false},
      axisLine:{show:true,onZero:false,lineStyle:{color:'#000',width:5}},
      axisTick:{show:true,length:32,customValues:emMajor,lineStyle:{color:'#333',width:4}},
      axisLabel:{show:true,customValues:emMajor,margin:53,fontFamily:'Liberation Mono',fontSize:51,color:'#222'}
    },
    {
      type:'value',gridIndex:0,min:250,max:825,position:'left',
      splitLine:{show:false},
      axisLine:{show:false},
      axisTick:{show:true,length:16,customValues:emMinor,lineStyle:{color:'#333',width:4}},
      axisLabel:{show:false}
    },
    {
      type:'value',gridIndex:0,min:250,max:825,position:'left',offset:4,
      splitLine:{show:false},
      axisLine:{show:true,onZero:false,lineStyle:{color:'#999',width:3}},
      axisTick:{show:false},
      axisLabel:{show:false}
    },
    {
      type:'value',gridIndex:1,min:-88.75,max:1508.75,position:'right',
      splitLine:{show:false},
      axisLine:{show:false},
      axisTick:{show:false},
      axisLabel:{
        show:true,customValues:levels,margin:9,fontFamily:'Liberation Mono',fontSize:36,color:'#333',
        padding:[5,0,0,0],
        formatter:function(v){return levelLabels[levels.indexOf(v)]}
      }
    }
  ],
  series:[
    patchSeries(patchesLevel1,'#0048ff'),
    patchSeries(patchesLevel3,'#00a0e0'),
    patchSeries(patchesLevel4,'#008090'),
    ...allContours.map(c=>lineSeries(c,3,0.3)),
    ...dashes.map(c=>lineSeries(c,5,false)),
    {
      type:'custom',
      xAxisIndex:3,
      yAxisIndex:3,
      silent:true,
      data:bandColors.map((c,i)=>[bandEdges[i],bandEdges[i+1]]),
      renderItem:function(params,api){
        const low=api.coord([0,api.value(0)])
        const high=api.coord([1,api.value(1)])
        const color=bandColors[params.dataIndex]
        return {
          type:'rect',
          shape:{x:low[0],y:high[1],width:high[0]-low[0],height:low[1]-high[1]},
          style:{fill:color,stroke:color,lineWidth:1}
        }
      }
    }
  ]
}

myChart.setOption(option)
</script>
</body>
</html>
